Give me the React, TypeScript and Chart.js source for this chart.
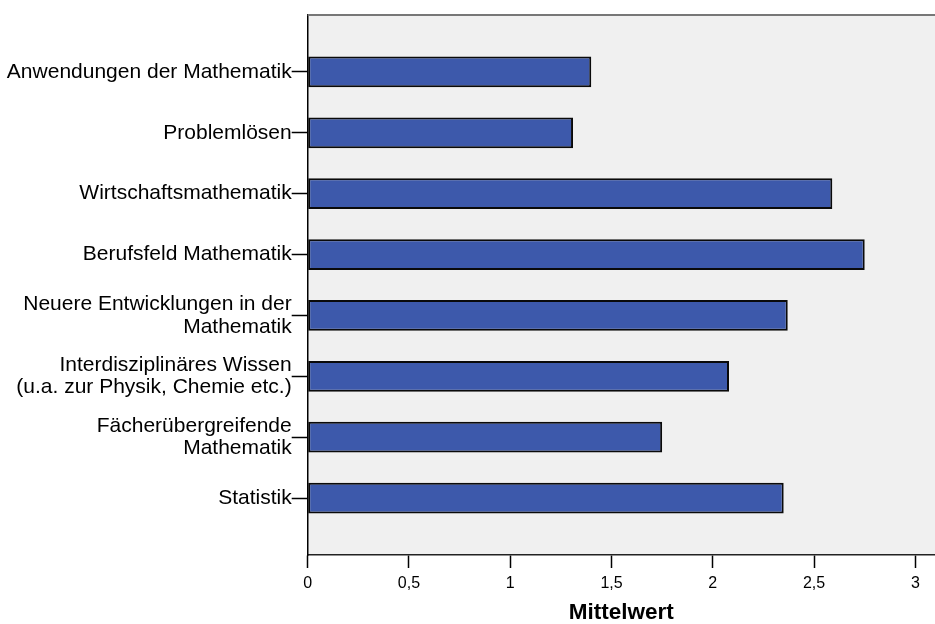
import React, { useEffect, useRef } from "react";
import { Chart, registerables } from "chart.js";

Chart.register(...registerables);

const categories: (string | string[])[] = [
  "Anwendungen der Mathematik",
  "Problemlösen",
  "Wirtschaftsmathematik",
  "Berufsfeld Mathematik",
  ["Neuere Entwicklungen in der", "Mathematik"],
  ["Interdisziplinäres Wissen", "(u.a. zur Physik, Chemie etc.)"],
  ["Fächerübergreifende", "Mathematik"],
  "Statistik",
];

const meanValues: number[] = [1.4, 1.31, 2.59, 2.75, 2.37, 2.08, 1.75, 2.35];

const xTickValues: number[] = [0, 0.5, 1, 1.5, 2, 2.5, 3];

const xTitle = "Mittelwert";

const FONT = "'Liberation Sans', Arial, Helvetica, sans-serif";

export default function App() {
  const ref = useRef<HTMLCanvasElement | null>(null);

  useEffect(() => {
    document.body.style.margin = "0";
    if (!ref.current) return;

    const bgPlugin = {
      id: "plotBg",
      beforeDraw(chart: any) {
        const { ctx, chartArea } = chart;
        ctx.save();
        ctx.fillStyle = "#f0f0f0";
        ctx.fillRect(chartArea.left, chartArea.top, chartArea.right - chartArea.left, chartArea.bottom - chartArea.top);
        ctx.restore();
      },
      afterDraw(chart: any) {
        const { ctx, chartArea } = chart;
        ctx.save();
        ctx.strokeStyle = "#777777";
        ctx.lineWidth = 2;
        ctx.beginPath();
        ctx.moveTo(chartArea.left, chartArea.top);
        ctx.lineTo(chartArea.right, chartArea.top);
        ctx.stroke();
        ctx.restore();
      },
    };

    const chart = new Chart(ref.current, {
      type: "bar",
      data: {
        datasets: [
          {
            data: meanValues.map((v, i) => ({ x: v, y: i })),
            backgroundColor: "#3d59ab",
            borderColor: "#0a0a0a",
            borderWidth: 2,
            borderSkipped: false,
            categoryPercentage: 1,
            barPercentage: 0.505,
          },
        ],
      },
      options: {
        indexAxis: "y",
        animation: false,
        responsive: true,
        maintainAspectRatio: false,
        layout: { padding: { top: 15, right: 0, left: 0, bottom: 0 } },
        plugins: {
          legend: { display: false },
          tooltip: { enabled: false },
        },
        scales: {
          x: {
            type: "linear",
            min: 0,
            max: 3.097,
            offset: false,
            afterBuildTicks(scale: any) {
              scale.ticks = xTickValues.map((v) => ({ value: v }));
            },
            afterFit(scale: any) {
              scale.height = 69;
            },
            ticks: {
              color: "#000",
              font: { family: FONT, size: 16 },
              padding: 6,
              maxRotation: 0,
              callback: (v: any) => String(v).replace(".", ","),
            },
            grid: {
              offset: false,
              drawOnChartArea: false,
              drawTicks: true,
              tickLength: 13,
              color: "#000",
              tickColor: "#000",
              tickWidth: 1.5,
            },
            border: { display: true, color: "#222", width: 1.5 },
            title: {
              display: true,
              text: xTitle,
              color: "#000",
              font: { family: FONT, size: 22.5, weight: "bold", lineHeight: 1 },
              padding: { top: 0, bottom: 0 },
            },
          },
          y: {
            type: "linear",
            reverse: true,
            offset: false,
            min: -0.935,
            max: 7.935,
            afterBuildTicks(scale: any) {
              scale.ticks = categories.map((_, i) => ({ value: i }));
            },
            afterFit(scale: any) {
              scale.width = 307.7;
            },
            ticks: {
              color: "#000",
              font: { family: FONT, size: 21, lineHeight: 1.08 },
              padding: 0,
              autoSkip: false,
              callback: (v: any) => {
                const i = Math.round(Number(v));
                return categories[i] ?? "";
              },
            },
            grid: {
              offset: false,
              drawOnChartArea: false,
              drawTicks: true,
              tickLength: 16,
              color: "#000",
              tickColor: "#000",
              tickWidth: 1.5,
            },
            border: { display: true, color: "#000", width: 1.5 },
          },
        },
      },
      plugins: [bgPlugin],
    } as any);

    return () => chart.destroy();
  }, []);

  return (
    <div style={{ width: 935, height: 624, position: "relative" }}>
      <canvas ref={ref} />
    </div>
  );
}
